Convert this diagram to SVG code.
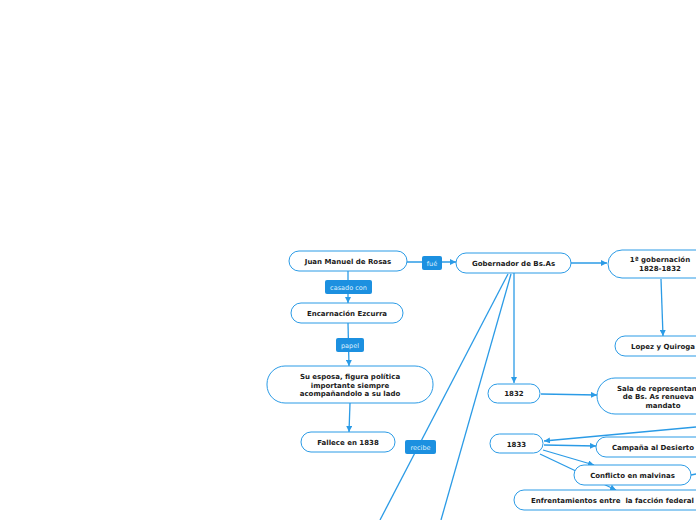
<svg xmlns="http://www.w3.org/2000/svg" width="696" height="520" viewBox="0 0 696 520">
<defs>
<marker id="ah" viewBox="0 0 10 10" refX="10" refY="5" markerWidth="6" markerHeight="6" markerUnits="userSpaceOnUse" orient="auto">
<path d="M0,0 L10,5 L0,10 z" fill="#2b9be6"/>
</marker>
<style>
.n{fill:#fff;stroke:#2b9be6;stroke-width:1}
.t{font-family:"DejaVu Sans",Verdana,sans-serif;font-weight:bold;font-size:7px;fill:#1a1a1a;text-anchor:middle}
.c{fill:none;stroke:#2b9be6;stroke-width:1.3}
.a{marker-end:url(#ah)}
.lb{fill:#1c90e0}
.lt{font-family:"DejaVu Sans",Verdana,sans-serif;font-size:6.5px;fill:#dff0ff;text-anchor:middle}
</style>
</defs>
<rect width="696" height="520" fill="#fff"/>
<g id="connectors">
<line class="c a" x1="407" y1="262" x2="456" y2="262"/>
<line class="c a" x1="571" y1="263" x2="607" y2="263"/>
<line class="c a" x1="661" y1="279" x2="663" y2="336"/>
<line class="c a" x1="348" y1="271" x2="348" y2="303"/>
<line class="c a" x1="348" y1="323" x2="349" y2="366"/>
<line class="c a" x1="350" y1="403" x2="349" y2="432"/>
<line class="c" x1="508" y1="274" x2="380" y2="520"/>
<line class="c" x1="511" y1="274" x2="441" y2="520"/>
<line class="c a" x1="514" y1="273" x2="514" y2="383"/>
<line class="c a" x1="541" y1="394" x2="597" y2="395"/>
<line class="c a" x1="696" y1="427" x2="544" y2="441"/>
<line class="c a" x1="544" y1="445" x2="596" y2="446"/>
<line class="c a" x1="543" y1="450" x2="594" y2="465"/>
<line class="c a" x1="540" y1="454" x2="616" y2="490"/>
<line class="c" x1="691" y1="475" x2="696" y2="474"/>
<g id="lbl-fue"><rect class="lb" x="422" y="256" width="20" height="14" rx="2"/><text class="lt" x="432" y="265.5">fué</text></g>
<g id="lbl-casado"><rect class="lb" x="325" y="280" width="47" height="14" rx="2"/><text class="lt" x="348.5" y="289.5">casado con</text></g>
<g id="lbl-papel"><rect class="lb" x="336" y="338" width="28" height="14" rx="2"/><text class="lt" x="350" y="347.5">papel</text></g>
<g id="lbl-recibe"><rect class="lb" x="405" y="440" width="31" height="14" rx="2"/><text class="lt" x="420.5" y="449.5">recibe</text></g>
</g>
<g id="rosas"><rect class="n" x="289" y="251" width="118" height="20" rx="10"/><text class="t" x="348" y="264">Juan Manuel de Rosas</text></g>
<g id="gobernador"><rect class="n" x="456" y="253" width="115" height="20" rx="10"/><text class="t" x="513.5" y="266">Gobernador de Bs.As</text></g>
<g id="primera"><rect class="n" x="608" y="250" width="104" height="28" rx="14"/><text class="t" x="660" y="262">1ª gobernación</text><text class="t" x="660" y="271">1828-1832</text></g>
<g id="lopez"><rect class="n" x="615" y="336" width="96" height="20" rx="10"/><text class="t" x="663" y="349">Lopez y Quiroga</text></g>
<g id="encarnacion"><rect class="n" x="291" y="303" width="112" height="20" rx="10"/><text class="t" x="347" y="316">Encarnación Ezcurra</text></g>
<g id="esposa"><rect class="n" x="267" y="366" width="166" height="37" rx="18"/><text class="t" x="350" y="379">Su esposa, figura política</text><text class="t" x="350" y="387.5">importante siempre</text><text class="t" x="350" y="396">acompañandolo a su lado</text></g>
<g id="fallece"><rect class="n" x="301" y="432" width="94" height="20" rx="10"/><text class="t" x="348" y="445">Fallece en 1838</text></g>
<g id="y1832"><rect class="n" x="488" y="384" width="52" height="19" rx="9.5"/><text class="t" x="514" y="396">1832</text></g>
<g id="sala"><rect class="n" x="597" y="378" width="134" height="36" rx="18"/><text class="t" x="663" y="390.5">Sala de representantes</text><text class="t" x="663" y="399">de Bs. As renueva el</text><text class="t" x="663" y="407.5">mandato</text></g>
<g id="y1833"><rect class="n" x="490" y="434" width="53" height="19" rx="9.5"/><text class="t" x="516.5" y="446.5">1833</text></g>
<g id="campana"><rect class="n" x="596" y="437" width="112" height="20" rx="10"/><text class="t" x="653" y="450">Campaña al Desierto</text></g>
<g id="conflicto"><rect class="n" x="574" y="465" width="117" height="20" rx="10"/><text class="t" x="632.5" y="478">Conflicto en malvinas</text></g>
<g id="enfrentamientos"><rect class="n" x="514" y="490" width="260" height="20" rx="10"/><text class="t" x="531" y="503" style="text-anchor:start;white-space:pre" xml:space="preserve">Enfrentamientos entre  la facción federal de</text></g>
</svg>
